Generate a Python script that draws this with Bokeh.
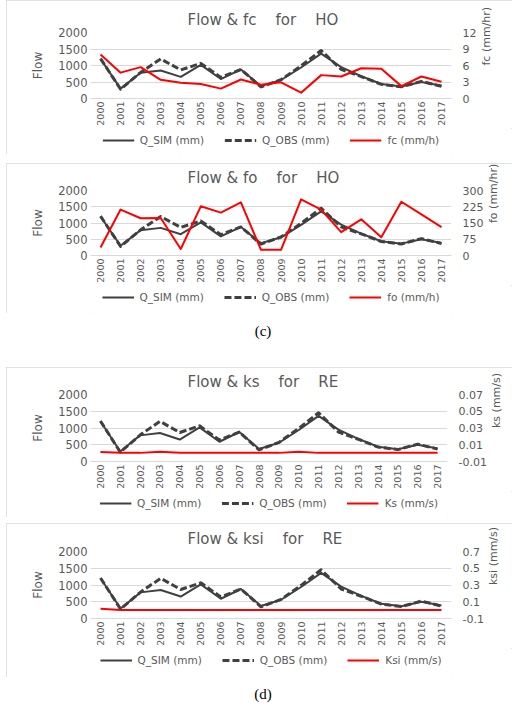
import math
from bokeh.plotting import figure
from bokeh.models import (FactorRange, Range1d, LinearAxis, FixedTicker, Legend,
                          LegendItem, Spacer, Div, CustomJSTickFormatter)
from bokeh.layouts import column, row
from bokeh.embed import file_html
from bokeh.resources import INLINE

# ---------------- data ----------------
years = [str(y) for y in range(2000, 2018)]
q_sim = [1200, 300, 780, 850, 655, 1020, 590, 880, 375, 560, 940, 1360, 950, 675, 440, 365, 500, 385]
q_obs = [1210, 280, 790, 1200, 865, 1065, 640, 880, 350, 570, 990, 1455, 880, 665, 430, 355, 520, 370]
fc = [8.0, 4.7, 5.7, 3.4, 2.85, 2.65, 1.8, 3.45, 2.5, 2.95, 1.05, 4.25, 4.0, 5.5, 5.4, 2.25, 4.0, 3.05]
fo = [37, 212, 172, 173, 30, 227, 198, 245, 26, 26, 259, 212, 108, 167, 84, 248, 190, 131]
ks = [0.0013, 0.0003, 0.0003, 0.0016, 0.0005, 0.0004, 0.0003, 0.0003, 0.0003, 0.0003,
      0.0016, 0.0003, 0.0003, 0.0003, 0.0003, 0.0003, 0.0003, 0.0003]
ksi = [0.015, 0.001, 0.001, 0.001, 0.001, 0.001, 0.001, 0.001, 0.001, 0.001,
       0.001, 0.001, 0.001, 0.001, 0.001, 0.001, 0.001, 0.001]

flow_ticks = [0, 500, 1000, 1500, 2000]
fc_ticks = [0, 3, 6, 9, 12]
fo_ticks = [0, 75, 150, 225, 300]
ks_ticks = [-0.01, 0.01, 0.03, 0.05, 0.07]
ksi_ticks = [-0.1, 0.1, 0.3, 0.5, 0.7]
fc_digits, fo_digits, ks_digits, ksi_digits = 0, 0, 2, 1

sim_label = "Q_SIM (mm)"
obs_label = "Q_OBS (mm)"

# ---------------- style ----------------
W = 506
FONT = "DejaVu Sans"
GRAY = "#595959"
GRID = "#d9d9d9"
DARK = "#404040"
RED = "#ff0000"
NB = "\u00a0" * 4
BOX = {"outline": "1px solid #d9d9d9", "outline-offset": "-1px"}


def add_lines(p, r_values, visible=True):
    r1 = p.line(years, q_sim, line_color=DARK, line_width=2, line_join="round", visible=visible)
    r2 = p.line(years, q_obs, line_color=DARK, line_width=3, line_dash="7 3",
                line_join="round", visible=visible)
    r3 = p.line(years, r_values, line_color=RED, line_width=2, line_join="round",
                y_range_name="r", visible=visible)
    return r1, r2, r3


def make_panel(title_text, r_values, r_start, r_end, r_ticks, r_digits,
               r_axis_label, r_legend_label, main_h, top, frame_h, leg_h, leg_c):
    p = figure(width=W, height=main_h,
               x_range=FactorRange(factors=years),
               y_range=Range1d(0, 2000),
               output_backend="svg", toolbar_location=None, tools="",
               min_border_left=84, min_border_right=61,
               min_border_top=top, min_border_bottom=main_h - top - frame_h)
    p.outline_line_color = None
    p.extra_y_ranges = {"r": Range1d(r_start, r_end)}

    p.title.text = title_text
    p.title.align = "left"
    p.title.offset = 97
    p.title.text_font = FONT
    p.title.text_font_size = "15px"
    p.title.text_font_style = "normal"
    p.title.text_color = GRAY
    p.title.standoff = 7

    p.xgrid.grid_line_color = None
    p.ygrid.ticker = FixedTicker(ticks=flow_ticks)
    p.ygrid.grid_line_color = GRID
    p.ygrid.grid_line_width = 1

    yax = p.yaxis[0]
    yax.ticker = FixedTicker(ticks=flow_ticks)
    yax.axis_label = "Flow"
    yax.axis_label_text_font = FONT
    yax.axis_label_text_font_size = "12px"
    yax.axis_label_text_font_style = "normal"
    yax.axis_label_text_color = GRAY
    yax.axis_label_standoff = 10
    yax.major_label_text_font = FONT
    yax.major_label_text_font_size = "11.5px"
    yax.major_label_text_color = GRAY
    yax.major_tick_out = 0
    yax.major_label_standoff = 3
    yax.axis_line_color = None
    yax.major_tick_line_color = None
    yax.minor_tick_line_color = None

    xax = p.xaxis[0]
    xax.major_label_orientation = math.pi / 2
    xax.major_label_text_font = FONT
    xax.major_label_text_font_size = "9.5px"
    xax.major_label_text_color = GRAY
    xax.major_tick_out = 0
    xax.major_label_standoff = 3
    xax.axis_line_color = GRID
    xax.major_tick_line_color = None
    xax.minor_tick_line_color = None

    rax = LinearAxis(y_range_name="r", ticker=FixedTicker(ticks=r_ticks),
                     formatter=CustomJSTickFormatter(code="return tick.toFixed(%d);" % r_digits))
    rax.axis_label = r_axis_label
    rax.axis_label_orientation = math.pi / 2
    rax.axis_label_text_align = "center"
    rax.axis_label_text_font = FONT
    rax.axis_label_text_font_size = "11px"
    rax.axis_label_text_font_style = "normal"
    rax.axis_label_text_color = GRAY
    rax.axis_label_standoff = 7
    rax.major_label_text_font = FONT
    rax.major_label_text_font_size = "11px"
    rax.major_label_text_color = GRAY
    rax.major_tick_out = 4
    rax.major_label_standoff = 7
    rax.axis_line_color = None
    rax.major_tick_line_color = None
    rax.minor_tick_line_color = None
    p.add_layout(rax, "right")

    add_lines(p, r_values)

    # legend strip below the chart
    lf = figure(width=W, height=leg_h, x_range=FactorRange(factors=years),
                y_range=Range1d(0, 2000), x_axis_type=None, y_axis_type=None,
                output_backend="svg", toolbar_location=None, tools="",
                min_border_left=0, min_border_right=0, min_border_top=0, min_border_bottom=0)
    lf.outline_line_color = None
    lf.extra_y_ranges = {"r": Range1d(r_start, r_end)}
    l1, l2, l3 = add_lines(lf, r_values, visible=False)
    legend = Legend(items=[LegendItem(label=sim_label, renderers=[l1]),
                           LegendItem(label=obs_label, renderers=[l2]),
                           LegendItem(label=r_legend_label, renderers=[l3])],
                    orientation="horizontal", location="top_center",
                    border_line_color=None, background_fill_alpha=0,
                    label_text_font=FONT, label_text_font_size="10.5px",
                    label_text_color=GRAY, glyph_width=32, glyph_height=12,
                    label_standoff=6, spacing=20, padding=0, margin=leg_c - 6)
    lf.add_layout(legend, "center")
    return column(p, lf, styles=BOX)


p1 = make_panel("Flow & fc" + NB + "for" + NB + "HO", fc, 0, 12, fc_ticks, fc_digits,
                "fc (mm/hr)", "fc (mm/h)", 128, 32, 68, 26, 12)
p2 = make_panel("Flow & fo" + NB + "for" + NB + "HO", fo, 0, 300, fo_ticks, fo_digits,
                "fo (mm/hr)", "fo (mm/h)", 122, 25, 68, 28, 12)
p3 = make_panel("Flow & ks" + NB + "for" + NB + "RE", ks, -0.01, 0.07, ks_ticks, ks_digits,
                "ks (mm/s)", "Ks (mm/s)", 124, 26, 69, 26, 12)
p4 = make_panel("Flow & ksi" + NB + "for" + NB + "RE", ksi, -0.1, 0.7, ksi_ticks, ksi_digits,
                "ksi (mm/s)", "Ksi (mm/s)", 125, 28, 68, 29, 12)

cap_style = ("width:506px; text-align:center; font-family:'Liberation Serif'; font-size:15px; "
             "line-height:16px; color:#000; padding-left:8px; box-sizing:border-box;")
div_c = Div(text='<div style="%s padding-top:10px;">(c)</div>' % cap_style,
            width=W, height=54, margin=0)
div_d = Div(text='<div style="%s padding-top:9px;">(d)</div>' % cap_style,
            width=W, height=29, margin=0)

stack = column(p1, Spacer(width=W, height=9), p2, div_c, p3, Spacer(width=W, height=6), p4, div_d)
layout = row(Spacer(width=6, height=10), stack)

open("out.html", "w").write(file_html(layout, INLINE))
